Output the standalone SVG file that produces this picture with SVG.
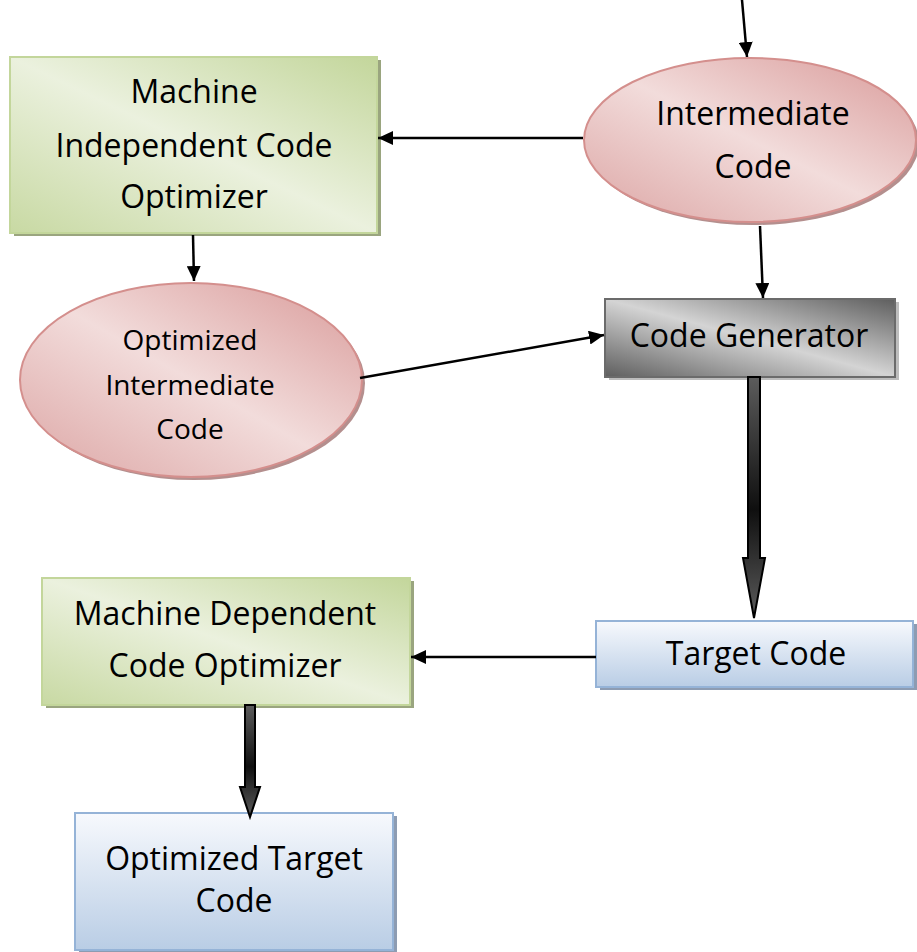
<svg xmlns="http://www.w3.org/2000/svg" width="917" height="952" viewBox="0 0 917 952">
  <defs>
    <linearGradient id="gGreen" x1="1" y1="0" x2="0" y2="1">
      <stop offset="0" stop-color="#c3d69b"/>
      <stop offset="0.5" stop-color="#ebf1de"/>
      <stop offset="1" stop-color="#c8d9a3"/>
    </linearGradient>
    <linearGradient id="gPink" x1="1" y1="0" x2="0" y2="1">
      <stop offset="0" stop-color="#d99a99"/>
      <stop offset="0.5" stop-color="#f2dcdb"/>
      <stop offset="1" stop-color="#dca5a4"/>
    </linearGradient>
    <linearGradient id="gGray" x1="1" y1="0" x2="0" y2="1">
      <stop offset="0" stop-color="#5e5e5e"/>
      <stop offset="0.5" stop-color="#d4d4d4"/>
      <stop offset="1" stop-color="#5e5e5e"/>
    </linearGradient>
    <linearGradient id="gBlue" x1="0" y1="0" x2="0" y2="1">
      <stop offset="0" stop-color="#f7f9fd"/>
      <stop offset="1" stop-color="#b9cde5"/>
    </linearGradient>
    <linearGradient id="gBlock" x1="0" y1="0" x2="0" y2="1">
      <stop offset="0" stop-color="#5c5c5c"/>
      <stop offset="0.55" stop-color="#0f0f0f"/>
      <stop offset="1" stop-color="#5c5c5c"/>
    </linearGradient>
    <marker id="head" markerUnits="userSpaceOnUse" markerWidth="16" markerHeight="14" refX="15" refY="7" orient="auto">
      <path d="M0,0 L15,7 L0,14 Z" fill="#000"/>
    </marker>
    <style>
      .lbl { font-family: "Open Sans", "Noto Sans", sans-serif; font-size: 32px; fill: #000; text-anchor: middle; }
      .sm { font-size: 28px; }
      .green { fill: url(#gGreen); stroke: #c3d69b; stroke-width: 2; }
      .pink { fill: url(#gPink); stroke: #d48f8d; stroke-width: 2; }
      .gray { fill: url(#gGray); stroke: #6b6b6b; stroke-width: 2; }
      .blue { fill: url(#gBlue); stroke: #95b3d7; stroke-width: 2; }
      .shG { fill: #9aa57f; }
      .shP { fill: #b48f8e; }
      .shC { fill: #bdbdbd; }
      .shB { fill: #8d9cb2; }
      .conn { stroke: #000; stroke-width: 2.5; fill: none; marker-end: url(#head); }
      .block { fill: url(#gBlock); stroke: #000; stroke-width: 2; }
    </style>
  </defs>

  <!-- Machine Independent Code Optimizer -->
  <g id="mico">
    <rect class="shG" x="14" y="60" width="367" height="176"/>
    <rect class="green" x="10" y="57" width="367" height="176"/>
    <text class="lbl" x="194" y="103">Machine</text>
    <text class="lbl" x="194" y="157">Independent Code</text>
    <text class="lbl" x="194" y="208">Optimizer</text>
  </g>

  <!-- Intermediate Code -->
  <g id="intermediate">
    <ellipse class="shP" cx="753" cy="143" rx="166" ry="82"/>
    <ellipse class="pink" cx="750" cy="140" rx="166" ry="82"/>
    <text class="lbl" x="753" y="125">Intermediate</text>
    <text class="lbl" x="753" y="178">Code</text>
  </g>

  <!-- Optimized Intermediate Code -->
  <g id="opt-intermediate">
    <ellipse class="shP" cx="194" cy="383" rx="171" ry="97"/>
    <ellipse class="pink" cx="191" cy="380" rx="171" ry="97"/>
    <text class="lbl sm" x="190" y="350">Optimized</text>
    <text class="lbl sm" x="190" y="395">Intermediate</text>
    <text class="lbl sm" x="190" y="439">Code</text>
  </g>

  <!-- Code Generator -->
  <g id="codegen">
    <rect class="shC" x="609" y="302" width="290" height="78"/>
    <rect class="gray" x="605" y="299" width="290" height="78"/>
    <text class="lbl" x="749" y="347">Code Generator</text>
  </g>

  <!-- Target Code -->
  <g id="target">
    <rect class="shB" x="600" y="624" width="317" height="66"/>
    <rect class="blue" x="596" y="621" width="317" height="66"/>
    <text class="lbl" x="756" y="665">Target Code</text>
  </g>

  <!-- Machine Dependent Code Optimizer -->
  <g id="mdco">
    <rect class="shG" x="46" y="581" width="368" height="127"/>
    <rect class="green" x="42" y="578" width="368" height="127"/>
    <text class="lbl" x="225" y="625">Machine Dependent</text>
    <text class="lbl" x="225" y="677">Code Optimizer</text>
  </g>

  <!-- Optimized Target Code -->
  <g id="opt-target">
    <rect class="shB" x="79" y="816" width="318" height="137"/>
    <rect class="blue" x="75" y="813" width="318" height="137"/>
    <text class="lbl" x="234" y="870">Optimized Target</text>
    <text class="lbl" x="234" y="912">Code</text>
  </g>

  <!-- Connectors -->
  <g id="connectors">
    <line class="conn" x1="742" y1="0" x2="747" y2="57"/>
    <line class="conn" x1="583" y1="138" x2="378" y2="138"/>
    <line class="conn" x1="760" y1="226" x2="763" y2="298"/>
    <line class="conn" x1="193" y1="235" x2="194" y2="281"/>
    <line class="conn" x1="360" y1="378" x2="604" y2="335"/>
    <line class="conn" x1="596" y1="657" x2="411" y2="657"/>
    <polygon class="block" points="748,377 760,377 760,558 765,558 754,618 743,558 748,558"/>
    <polygon class="block" points="245,705 255,705 255,787 260,787 250,817 240,787 245,787"/>
  </g>
</svg>
